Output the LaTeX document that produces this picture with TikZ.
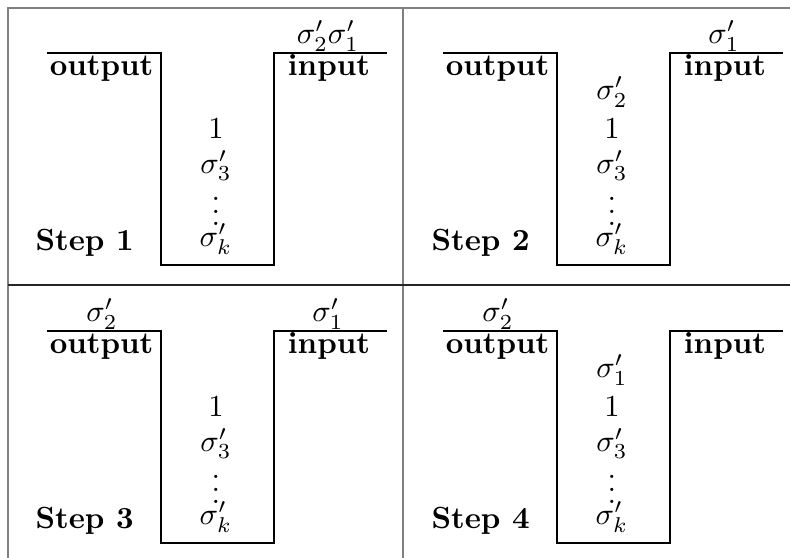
\documentclass[tikz,border=0pt]{standalone}
\usepackage{amsmath}
\usepackage{amsfonts,amssymb}
\usetikzlibrary{positioning}

\begin{document}
\begin{tikzpicture}[x=0.3268pt,y=-0.3268pt,node distance=12pt,on grid,
  tank/.style={draw=black,line width=0.7pt},
  rule/.style={draw=gray,line width=0.6pt},
  port/.style={font=\bfseries,inner sep=0pt},
  steplabel/.style={font=\bfseries,inner sep=0pt,anchor=base west},
  top label/.style={inner sep=0pt,anchor=base}]

  \useasboundingbox (0,0) rectangle (790,558);

  \path[rule] (790,8) -- (8,8) -- (8,558);
  \path[rule] (403,8) -- (403,558);
  \draw[black!85,line width=0.4pt] (8,285) -- (790,285);

  \begin{scope}
    \path[tank] (47,53) -- (161,53) -- (161,265) -- (274,265) -- (274,53) -- (387,53);
    \node[port,anchor=base east] (out1) at (154,76) {output};
    \node[port,anchor=base] (in1) at (329,76) {input};
    \node[top label] (inlab1) at (328,44) {$\sigma'_2\sigma'_1$};
    \node (k1) at (216,239) {$\sigma'_k$};
    \node (dots1) [above=of k1] {$\vdots$};
    \node (three1) [above=of dots1] {$\sigma'_3$};
    \node (one1) [above=of three1] {$1$};
    \node[steplabel] (step1) at (35,251) {Step 1};
  \end{scope}

  \begin{scope}[shift={(396,0)}]
    \path[tank] (47,53) -- (161,53) -- (161,265) -- (274,265) -- (274,53) -- (387,53);
    \node[port,anchor=base east] (out2) at (154,76) {output};
    \node[port,anchor=base] (in2) at (329,76) {input};
    \node[top label] (inlab2) at (328,44) {$\sigma'_1$};
    \node (k2) at (216,239) {$\sigma'_k$};
    \node (dots2) [above=of k2] {$\vdots$};
    \node (three2) [above=of dots2] {$\sigma'_3$};
    \node (one2) [above=of three2] {$1$};
    \node (two2) [above=of one2] {$\sigma'_2$};
    \node[steplabel] (step2) at (35,251) {Step 2};
  \end{scope}

  \begin{scope}[shift={(0,278)}]
    \path[tank] (47,53) -- (161,53) -- (161,265) -- (274,265) -- (274,53) -- (387,53);
    \node[port,anchor=base east] (out3) at (154,76) {output};
    \node[port,anchor=base] (in3) at (329,76) {input};
    \node[top label] (outlab3) at (102,44) {$\sigma'_2$};
    \node[top label] (inlab3) at (328,44) {$\sigma'_1$};
    \node (k3) at (216,239) {$\sigma'_k$};
    \node (dots3) [above=of k3] {$\vdots$};
    \node (three3) [above=of dots3] {$\sigma'_3$};
    \node (one3) [above=of three3] {$1$};
    \node[steplabel] (step3) at (35,251) {Step 3};
  \end{scope}

  \begin{scope}[shift={(396,278)}]
    \path[tank] (47,53) -- (161,53) -- (161,265) -- (274,265) -- (274,53) -- (387,53);
    \node[port,anchor=base east] (out4) at (154,76) {output};
    \node[port,anchor=base] (in4) at (329,76) {input};
    \node[top label] (outlab4) at (102,44) {$\sigma'_2$};
    \node (k4) at (216,239) {$\sigma'_k$};
    \node (dots4) [above=of k4] {$\vdots$};
    \node (three4) [above=of dots4] {$\sigma'_3$};
    \node (one4) [above=of three4] {$1$};
    \node (first4) [above=of one4] {$\sigma'_1$};
    \node[steplabel] (step4) at (35,251) {Step 4};
  \end{scope}
\end{tikzpicture}
\end{document}
